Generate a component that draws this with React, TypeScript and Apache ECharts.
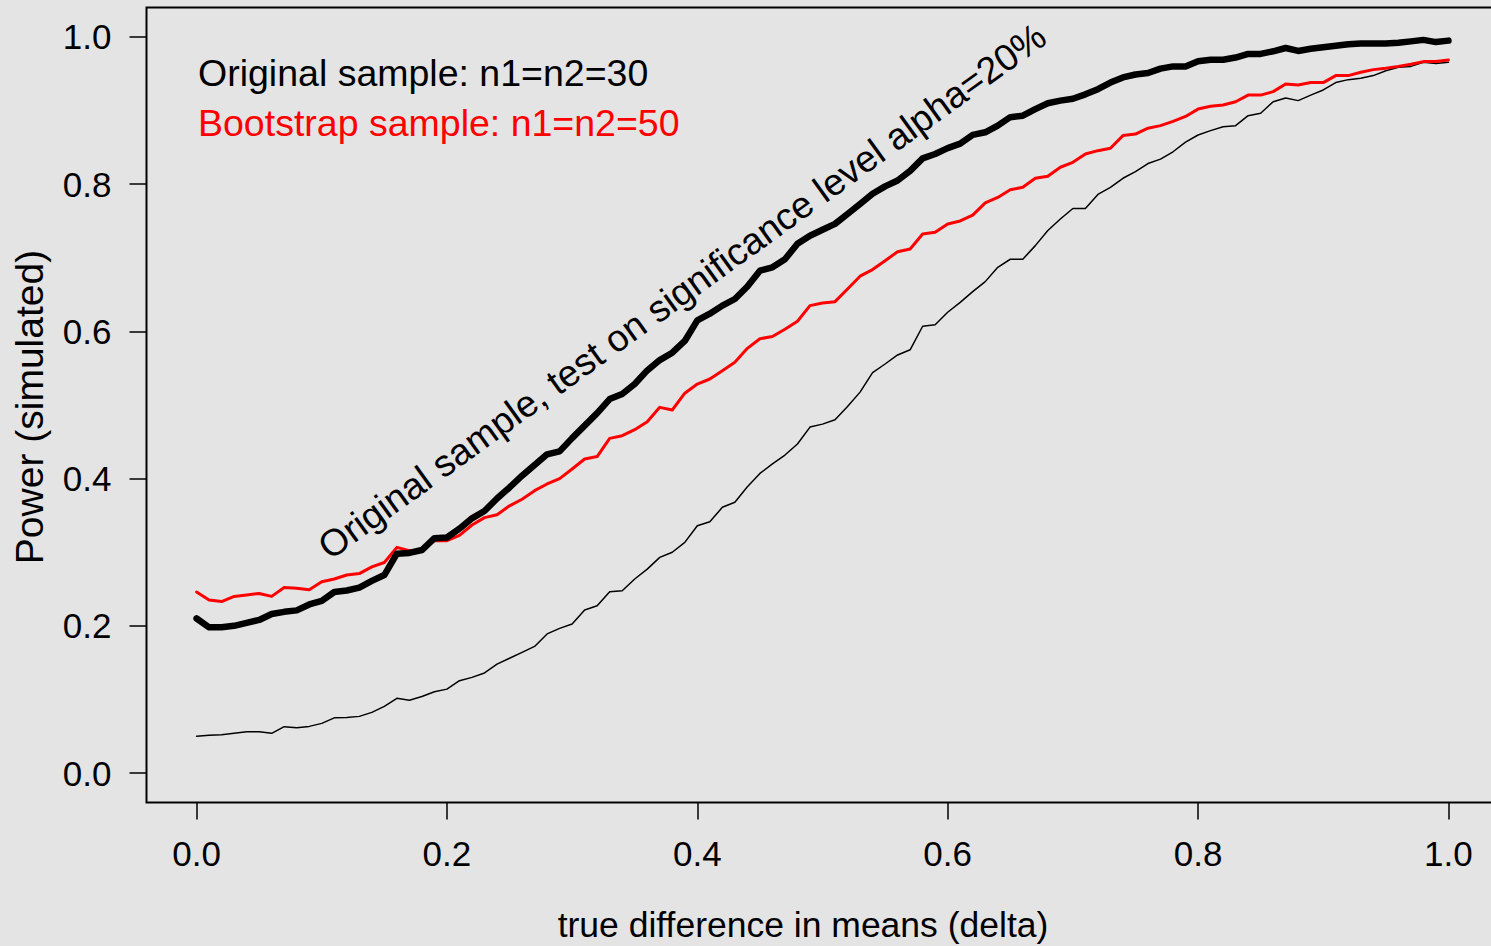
import React, { useEffect, useRef } from "react";
import * as echarts from "echarts";

// delta = 0.00, 0.01, ..., 1.00
const deltas: number[] = Array.from({ length: 101 }, (_, i) => +(i / 100).toFixed(2));

// Original sample n1=n2=30, test at alpha=20% (thick black)
const powerOrigAlpha20: number[] = [
  0.210, 0.198, 0.198, 0.200, 0.204, 0.208, 0.216, 0.219, 0.221, 0.229,
  0.234, 0.246, 0.248, 0.252, 0.261, 0.269, 0.298, 0.299, 0.303, 0.319,
  0.320, 0.332, 0.346, 0.356, 0.373, 0.388, 0.404, 0.4185, 0.433, 0.437,
  0.455, 0.472, 0.489, 0.508, 0.515, 0.5285, 0.547, 0.561, 0.571, 0.587,
  0.615, 0.624, 0.635, 0.644, 0.661, 0.6825, 0.687, 0.698, 0.719, 0.730,
  0.738, 0.746, 0.7595, 0.773, 0.787, 0.797, 0.805, 0.818, 0.835, 0.841,
  0.849, 0.855, 0.867, 0.8705, 0.8795, 0.891, 0.893, 0.902, 0.910, 0.9135,
  0.916, 0.922, 0.929, 0.938, 0.945, 0.949, 0.951, 0.957, 0.960, 0.960,
  0.967, 0.969, 0.969, 0.972, 0.977, 0.977, 0.9805, 0.985, 0.981, 0.984,
  0.986, 0.988, 0.990, 0.991, 0.991, 0.991, 0.992, 0.994, 0.996, 0.993, 0.995,
];

// Bootstrap sample n1=n2=50 (red)
const powerBootstrap: number[] = [
  0.246, 0.235, 0.233, 0.240, 0.242, 0.244, 0.240, 0.252, 0.251, 0.249,
  0.260, 0.2636, 0.269, 0.271, 0.280, 0.286, 0.3066, 0.302, 0.303, 0.316,
  0.3157, 0.323, 0.337, 0.347, 0.351, 0.363, 0.372, 0.3836, 0.3927, 0.400,
  0.413, 0.4266, 0.430, 0.4547, 0.4583, 0.4665, 0.4773, 0.4968, 0.4932, 0.516,
  0.5285, 0.5353, 0.5466, 0.558, 0.577, 0.590, 0.593, 0.603, 0.6137, 0.635,
  0.6386, 0.6404, 0.6576, 0.675, 0.684, 0.696, 0.7083, 0.712, 0.7323, 0.7346,
  0.746, 0.750, 0.758, 0.7745, 0.782, 0.7925, 0.7957, 0.808, 0.8107, 0.823,
  0.8297, 0.841, 0.8455, 0.8487, 0.866, 0.868, 0.876, 0.8795, 0.8854, 0.892,
  0.902, 0.9058, 0.9076, 0.912, 0.921, 0.921, 0.9257, 0.936, 0.9348, 0.938,
  0.938, 0.9475, 0.9475, 0.952, 0.9556, 0.9574, 0.960, 0.963, 0.9665, 0.9665, 0.9688,
];

// Original sample n1=n2=30, conventional level (thin black)
const powerOrigThin: number[] = [
  0.050, 0.0515, 0.052, 0.054, 0.056, 0.056, 0.054, 0.063, 0.0616, 0.0634,
  0.0675, 0.075, 0.0756, 0.077, 0.0824, 0.0906, 0.1015, 0.099, 0.104, 0.1105,
  0.114, 0.1254, 0.130, 0.136, 0.148, 0.156, 0.164, 0.172, 0.189, 0.1966,
  0.2024, 0.2215, 0.2273, 0.2464, 0.2477, 0.2636, 0.277, 0.293, 0.300, 0.3134,
  0.336, 0.3415, 0.361, 0.3678, 0.389, 0.407, 0.420, 0.432, 0.447, 0.470,
  0.474, 0.480, 0.498, 0.5175, 0.544, 0.5557, 0.568, 0.575, 0.607, 0.609,
  0.626, 0.6395, 0.654, 0.6676, 0.687, 0.698, 0.698, 0.7165, 0.737, 0.7527,
  0.767, 0.767, 0.786, 0.7957, 0.808, 0.817, 0.828, 0.834, 0.844, 0.857,
  0.8668, 0.8727, 0.878, 0.8795, 0.893, 0.8963, 0.912, 0.917, 0.9135, 0.921,
  0.928, 0.938, 0.942, 0.944, 0.9475, 0.954, 0.9588, 0.960, 0.9656, 0.964, 0.9656,
];

const tickValues: number[] = [0, 0.2, 0.4, 0.6, 0.8, 1.0];

const legendLines: string[] = ["Original sample: n1=n2=30", "Bootstrap sample: n1=n2=50"];
const annotation = "Original sample, test on significance level alpha=20%";
const xTitle = "true difference in means (delta)";
const yTitle = "Power (simulated)";

const FONT = '"Liberation Sans", Arial, Helvetica, sans-serif';

export default function App() {
  const ref = useRef<HTMLDivElement>(null);

  useEffect(() => {
    if (!ref.current) return;
    document.body.style.margin = "0";
    document.body.style.background = "#e4e4e4";
    const chart = echarts.init(ref.current, null, { renderer: "svg" });

    const pairs = (ys: number[]) => deltas.map((d, i) => [d, ys[i]]);

    const axisCommon = {
      type: "value",
      min: -0.04,
      max: 1.04,
      splitLine: { show: false },
      axisLine: { show: false, onZero: false },
      axisTick: {
        show: true,
        inside: false,
        length: 17,
        customValues: tickValues,
        lineStyle: { color: "#000", width: 1.5 },
      },
    };

    const option: any = {
      animation: false,
      backgroundColor: "#e4e4e4",
      grid: {
        left: 146.5,
        top: 7.5,
        width: 1352,
        height: 795,
        show: true,
        borderColor: "#000",
        borderWidth: 2,
        backgroundColor: "transparent",
        containLabel: false,
      },
      xAxis: {
        ...axisCommon,
        axisLabel: {
          show: true,
          customValues: tickValues,
          margin: 33,
          fontSize: 35,
          fontFamily: FONT,
          color: "#000",
          formatter: (v: number) => v.toFixed(1),
        },
      },
      yAxis: {
        ...axisCommon,
        axisLabel: {
          show: true,
          customValues: tickValues,
          margin: 35,
          fontSize: 35,
          fontFamily: FONT,
          color: "#000",
          formatter: (v: number) => v.toFixed(1),
        },
      },
      series: [
        {
          type: "line",
          name: "thin",
          data: pairs(powerOrigThin),
          showSymbol: false,
          symbol: "none",
          lineStyle: { color: "#000", width: 1.5, cap: "round", join: "round" },
          z: 2,
        },
        {
          type: "line",
          name: "bootstrap",
          data: pairs(powerBootstrap),
          showSymbol: false,
          symbol: "none",
          lineStyle: { color: "#ff0000", width: 3, cap: "round", join: "round" },
          z: 3,
        },
        {
          type: "line",
          name: "orig20",
          data: pairs(powerOrigAlpha20),
          showSymbol: false,
          symbol: "none",
          lineStyle: { color: "#000", width: 6.5, cap: "round", join: "round" },
          z: 4,
        },
      ],
      graphic: [
        {
          type: "text",
          x: 198,
          y: 73,
          style: {
            text: legendLines[0],
            fill: "#000",
            fontSize: 37.5,
            fontFamily: FONT,
            align: "left",
            verticalAlign: "middle",
            textAlign: "left",
            textVerticalAlign: "middle",
          },
        },
        {
          type: "text",
          x: 198,
          y: 123,
          style: {
            text: legendLines[1],
            fill: "#ff0000",
            fontSize: 37.5,
            fontFamily: FONT,
            align: "left",
            verticalAlign: "middle",
            textAlign: "left",
            textVerticalAlign: "middle",
          },
        },
        {
          type: "text",
          x: 682,
          y: 291,
          rotation: (35.8 * Math.PI) / 180,
          style: {
            text: annotation,
            fill: "#000",
            fontSize: 37.5,
            fontFamily: FONT,
            align: "center",
            verticalAlign: "middle",
            textAlign: "center",
            textVerticalAlign: "middle",
          },
        },
        {
          type: "text",
          x: 803,
          y: 925,
          style: {
            text: xTitle,
            fill: "#000",
            fontSize: 35.5,
            fontFamily: FONT,
            align: "center",
            verticalAlign: "middle",
            textAlign: "center",
            textVerticalAlign: "middle",
          },
        },
        {
          type: "text",
          x: 29,
          y: 407,
          rotation: Math.PI / 2,
          style: {
            text: yTitle,
            fill: "#000",
            fontSize: 39,
            fontFamily: FONT,
            align: "center",
            verticalAlign: "middle",
            textAlign: "center",
            textVerticalAlign: "middle",
          },
        },
      ],
    };

    chart.setOption(option);
    return () => chart.dispose();
  }, []);

  return (
    <div
      style={{ position: "fixed", left: 0, top: 0, width: 1491, height: 946, overflow: "hidden" }}
    >
      <div ref={ref} style={{ width: 1520, height: 946 }} />
    </div>
  );
}
